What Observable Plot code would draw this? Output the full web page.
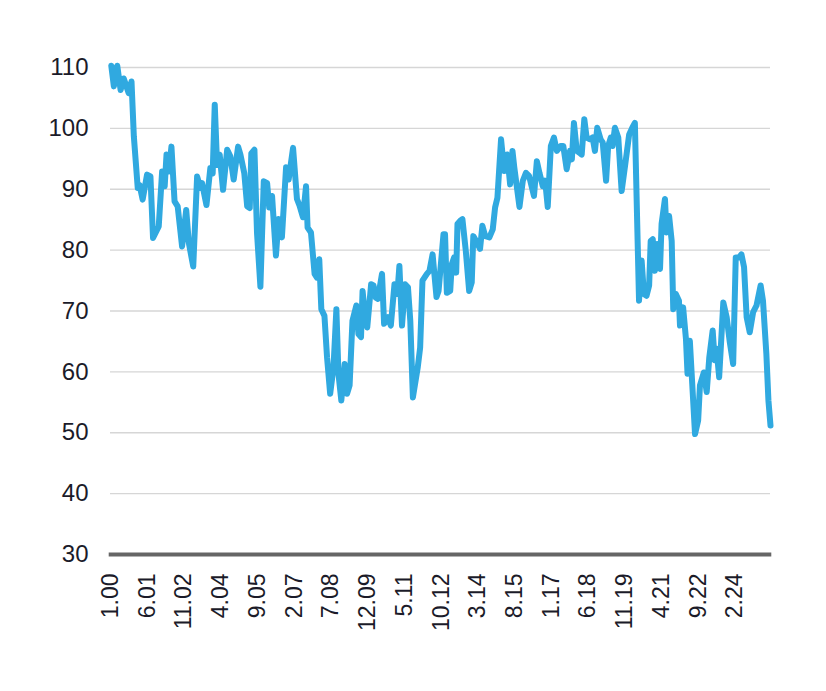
<!DOCTYPE html>
<html>
<head>
<meta charset="utf-8">
<script src="https://cdn.jsdelivr.net/npm/d3@7"></script>
<script src="https://cdn.jsdelivr.net/npm/@observablehq/plot@0.6"></script>
<style>
  html, body { margin: 0; padding: 0; background: #fff; }
  #chart svg { display: block; }
</style>
</head>
<body>
<div id="chart"></div>
<script>
// Time as decimal years
const times = [
  2000.03, 2000.13, 2000.26, 2000.39, 2000.51, 2000.70, 2000.81, 2000.90, 2001.05, 2001.12,
  2001.24, 2001.41, 2001.54, 2001.64, 2001.86, 2001.99, 2002.09, 2002.16, 2002.25, 2002.35,
  2002.47, 2002.59, 2002.76, 2002.92, 2003.02, 2003.19, 2003.34, 2003.47, 2003.53, 2003.70,
  2003.85, 2003.94, 2004.02, 2004.11, 2004.21, 2004.34, 2004.50, 2004.62, 2004.75, 2004.92,
  2005.01, 2005.16, 2005.27, 2005.37, 2005.43, 2005.55, 2005.65, 2005.78, 2005.91, 2006.04,
  2006.12, 2006.23, 2006.38, 2006.48, 2006.61, 2006.77, 2006.87, 2007.04, 2007.19, 2007.29,
  2007.42, 2007.54, 2007.60, 2007.73, 2007.87, 2007.96, 2008.05, 2008.13, 2008.25, 2008.35,
  2008.47, 2008.60, 2008.71, 2008.79, 2008.90, 2009.03, 2009.12, 2009.22, 2009.33, 2009.48,
  2009.56, 2009.66, 2009.72, 2009.82, 2009.90, 2010.05, 2010.14, 2010.23, 2010.31, 2010.47,
  2010.55, 2010.70, 2010.81, 2010.95, 2011.06, 2011.14, 2011.24, 2011.36, 2011.47, 2011.56,
  2011.66, 2011.85, 2011.94, 2012.03, 2012.20, 2012.30, 2012.42, 2012.57, 2012.65, 2012.84,
  2012.90, 2012.97, 2013.10, 2013.16, 2013.25, 2013.33, 2013.38, 2013.48, 2013.57, 2013.70,
  2013.83, 2013.93, 2013.99, 2014.10, 2014.25, 2014.34, 2014.45, 2014.61, 2014.74, 2014.83,
  2014.92, 2015.06, 2015.18, 2015.30, 2015.41, 2015.50, 2015.57, 2015.77, 2015.90, 2016.02,
  2016.14, 2016.33, 2016.44, 2016.54, 2016.67, 2016.76, 2016.86, 2016.98, 2017.10, 2017.21,
  2017.36, 2017.46, 2017.59, 2017.72, 2017.79, 2017.87, 2017.98, 2018.08, 2018.17, 2018.27,
  2018.36, 2018.49, 2018.59, 2018.68, 2018.77, 2018.90, 2018.98, 2019.11, 2019.19, 2019.29,
  2019.36, 2019.45, 2019.58, 2019.71, 2019.84, 2020.00, 2020.12, 2020.22, 2020.38, 2020.48,
  2020.57, 2020.67, 2020.77, 2020.83, 2020.91, 2020.99, 2021.08, 2021.19, 2021.25, 2021.38,
  2021.44, 2021.54, 2021.64, 2021.70, 2021.80, 2021.92, 2021.96, 2022.08, 2022.19, 2022.25,
  2022.34, 2022.41, 2022.54, 2022.66, 2022.73, 2022.88, 2022.99, 2023.09, 2023.22, 2023.30,
  2023.37, 2023.47, 2023.63, 2023.76, 2023.88, 2024.01, 2024.11, 2024.24, 2024.33, 2024.43,
  2024.53, 2024.65, 2024.78, 2024.91, 2025.07, 2025.16, 2025.29, 2025.37, 2025.45
];
const values = [
  110.3, 106.9, 110.3, 106.3, 108.2, 105.8, 107.7, 98.7, 90.2, 90.7,
  88.3, 92.4, 92.1, 82.0, 83.9, 92.9, 90.5, 95.7, 92.9, 97.0,
  88.0, 87.2, 80.6, 86.6, 81.2, 77.3, 92.1, 90.2, 91.0, 87.4,
  93.5, 92.6, 103.9, 94.0, 95.7, 89.9, 96.5, 95.4, 91.6, 97.0,
  95.7, 92.6, 87.2, 86.9, 95.9, 96.5, 82.8, 74.0, 91.3, 91.0,
  87.0, 88.9, 79.1, 85.1, 82.1, 93.6, 91.6, 96.8, 88.4, 87.3,
  85.4, 90.5, 83.7, 82.9, 76.1, 75.5, 78.5, 70.3, 69.2, 62.4,
  56.4, 60.8, 70.3, 59.7, 55.3, 61.3, 56.4, 57.8, 68.4, 70.9,
  66.2, 65.7, 73.3, 69.0, 67.3, 74.4, 74.2, 72.2, 72.0, 76.1,
  67.9, 69.0, 67.6, 74.4, 72.8, 77.4, 67.6, 74.4, 73.9, 68.4,
  55.8, 60.8, 64.0, 75.0, 76.1, 76.6, 79.3, 72.3, 73.3, 82.6,
  82.6, 73.0, 73.3, 77.7, 78.8, 76.3, 84.3, 84.8, 85.1, 79.9,
  73.3, 74.7, 82.3, 81.5, 80.2, 84.0, 82.3, 82.1, 83.4, 87.0,
  88.6, 98.2, 93.0, 95.7, 90.8, 96.3, 93.6, 87.1, 91.4, 92.7,
  92.2, 88.9, 94.6, 92.7, 90.5, 91.4, 87.1, 97.1, 98.5, 96.3,
  97.1, 97.1, 93.3, 96.3, 94.9, 100.9, 96.3, 96.0, 95.7, 101.5,
  98.5, 98.2, 98.5, 96.3, 100.1, 98.2, 97.7, 91.4, 97.1, 98.5,
  97.1, 100.1, 98.5, 89.7, 93.8, 99.0, 100.1, 100.9, 71.7, 78.3,
  72.8, 72.5, 74.2, 81.5, 81.8, 76.6, 81.0, 76.9, 84.3, 88.4,
  82.9, 85.6, 81.5, 70.3, 72.8, 71.7, 67.6, 70.6, 65.4, 59.7,
  65.1, 59.7, 49.8, 52.0, 57.8, 59.9, 56.7, 62.4, 66.8, 61.9,
  63.8, 59.1, 71.4, 69.0, 64.9, 61.3, 78.8, 78.8, 79.3, 77.2,
  69.0, 66.5, 69.8, 70.9, 74.2, 71.7, 63.0, 55.3, 51.2
];
const xTickLabels = ["1.00", "6.01", "11.02", "4.04", "9.05", "2.07", "7.08", "12.09", "5.11",
  "10.12", "3.14", "8.15", "1.17", "6.18", "11.19", "4.21", "9.22", "2.24"];
const yTicks = [30, 40, 50, 60, 70, 80, 90, 100, 110];

const data = times.map((t, i) => ({t, v: values[i]}));
const tickPos = xTickLabels.map(s => {
  const [m, y] = s.split(".").map(Number);
  return 2000 + y + (m - 1) / 12;
});
const labelOf = new Map(tickPos.map((p, i) => [p, xTickLabels[i]]));

const textColor = "#1b1b29";
const chart = Plot.plot({
  width: 826,
  height: 691,
  marginLeft: 110,
  marginRight: 56,
  marginTop: 67,
  marginBottom: 137,
  style: {fontFamily: "'Liberation Sans', Arial, sans-serif", background: "#fff"},
  x: {domain: [2000, 2025.45]},
  y: {domain: [30, 110]},
  marks: [
    Plot.gridY(yTicks.filter(d => d > 30), {stroke: "#d6d6d6", strokeOpacity: 1, strokeWidth: 1.3}),
    Plot.axisY(yTicks, {tickSize: 0, tickPadding: 22, fontSize: 24, fill: textColor, label: null}),
    Plot.axisX(tickPos, {
      tickSize: 0, tickPadding: 19, tickRotate: -90, fontSize: 23, fill: textColor,
      tickFormat: d => labelOf.get(d), label: null
    }),
    Plot.ruleY([30], {stroke: "#666", strokeWidth: 4, x1: 1999.95, x2: 2025.5}),
    Plot.line(data, {x: "t", y: "v", stroke: "#30a9e0", strokeWidth: 6,
      strokeLinejoin: "round", strokeLinecap: "round", curve: "linear"})
  ]
});
document.getElementById("chart").appendChild(chart);
</script>
</body>
</html>
